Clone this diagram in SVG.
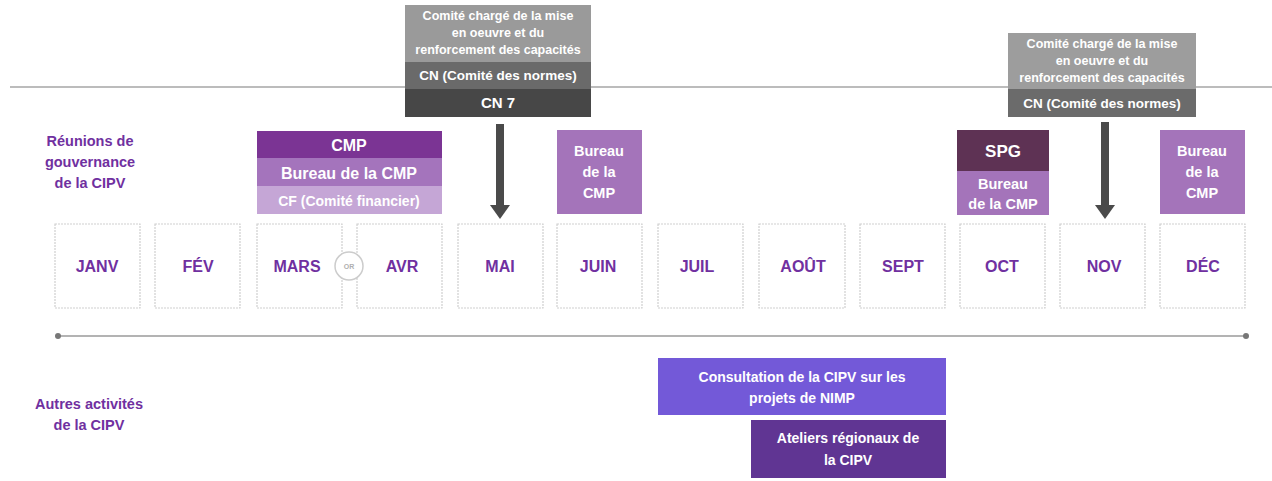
<svg xmlns="http://www.w3.org/2000/svg" width="1272" height="481" viewBox="0 0 1272 481">
<style>
text{font-family:"Liberation Sans",Arial,sans-serif;font-weight:bold;text-anchor:middle}
.w{fill:#fff}
.m{fill:#7030a0;font-size:16px}
.lbl{fill:#7030a0;font-size:14.5px}
.mb{fill:#fff;stroke:#cfcfcf;stroke-width:1.2;stroke-dasharray:2 1}
.s{font-size:12.5px}
</style>
<defs>
<marker id="ah" viewBox="0 0 14 20" refX="0" refY="10" markerWidth="14" markerHeight="20" markerUnits="userSpaceOnUse" orient="auto">
<path d="M0,0 L14,10 L0,20 Z" fill="#4a4a4a"/>
</marker>
</defs>
<line x1="10" y1="87" x2="1272" y2="87" stroke="#a6a6a6" stroke-width="1.5"/>
<g id="label-gouvernance">
<text class="lbl" x="90" y="146">Réunions de</text>
<text class="lbl" x="90" y="167">gouvernance</text>
<text class="lbl" x="90" y="188">de la CIPV</text>
</g>
<g id="label-autres">
<text class="lbl" x="89" y="409">Autres activités</text>
<text class="lbl" x="89" y="430">de la CIPV</text>
</g>
<g id="top-mai">
<rect x="405" y="5" width="186" height="57" fill="#9a9a9a"/>
<rect x="405" y="62" width="186" height="27" fill="#6a6a6a"/>
<rect x="405" y="89" width="186" height="28" fill="#474747"/>
<text class="w s" x="498" y="20">Comité chargé de la mise</text>
<text class="w s" x="498" y="37">en oeuvre et du</text>
<text class="w s" x="498" y="54">renforcement des capacités</text>
<text class="w" x="498" y="80" font-size="13.5">CN (Comité des normes)</text>
<text class="w" x="498" y="108" font-size="15">CN 7</text>
</g>
<g id="top-nov">
<rect x="1008" y="33" width="188" height="56" fill="#9d9d9d"/>
<rect x="1008" y="89" width="188" height="28" fill="#6b6b6b"/>
<text class="w s" x="1102" y="48">Comité chargé de la mise</text>
<text class="w s" x="1102" y="65">en oeuvre et du</text>
<text class="w s" x="1102" y="82">renforcement des capacités</text>
<text class="w" x="1102" y="108" font-size="13.5">CN (Comité des normes)</text>
</g>
<g id="cmp">
<rect x="257" y="131" width="185" height="27" fill="#7b3494"/>
<rect x="257" y="158" width="185" height="28" fill="#a474bc"/>
<rect x="257" y="186" width="185" height="28" fill="#c5a6d6"/>
<text class="w" x="349" y="151" font-size="16">CMP</text>
<text class="w" x="349" y="179" font-size="16">Bureau de la CMP</text>
<text class="w" x="349" y="206" font-size="14">CF (Comité financier)</text>
</g>
<g id="bureau-juin">
<rect x="557" y="130" width="85" height="84" fill="#a474ba"/>
<text class="w" x="599" y="156" font-size="14.5">Bureau</text>
<text class="w" x="599" y="177" font-size="14.5">de la</text>
<text class="w" x="599" y="198" font-size="14.5">CMP</text>
</g>
<g id="spg-oct">
<rect x="957" y="130" width="92" height="41" fill="#5e3254"/>
<rect x="957" y="171" width="92" height="44" fill="#a474ba"/>
<text class="w" x="1003" y="157" font-size="17">SPG</text>
<text class="w" x="1003" y="189" font-size="14.5">Bureau</text>
<text class="w" x="1003" y="209" font-size="14.5">de la CMP</text>
</g>
<g id="bureau-dec">
<rect x="1160" y="130" width="85" height="84" fill="#a474ba"/>
<text class="w" x="1202" y="156" font-size="14.5">Bureau</text>
<text class="w" x="1202" y="177" font-size="14.5">de la</text>
<text class="w" x="1202" y="198" font-size="14.5">CMP</text>
</g>
<g id="months">
<g id="m-janv"><rect class="mb" x="55" y="224" width="85" height="84"/><text class="m" x="97" y="272">JANV</text></g>
<g id="m-fev"><rect class="mb" x="155" y="224" width="85" height="84"/><text class="m" x="198" y="272">FÉV</text></g>
<g id="m-mars"><rect class="mb" x="257" y="224" width="85" height="84"/><text class="m" x="297" y="272">MARS</text></g>
<g id="m-avr"><rect class="mb" x="357" y="224" width="85" height="84"/><text class="m" x="402" y="272">AVR</text></g>
<g id="or"><circle cx="349" cy="266" r="14" fill="#fff" stroke="#cccccc" stroke-width="1.5"/><text x="349" y="269" font-size="7" fill="#b0b0b0" font-weight="normal">OR</text></g>
<g id="m-mai"><rect class="mb" x="458" y="224" width="85" height="84"/><text class="m" x="500" y="272">MAI</text></g>
<g id="m-juin"><rect class="mb" x="557" y="224" width="85" height="84"/><text class="m" x="598" y="272">JUIN</text></g>
<g id="m-juil"><rect class="mb" x="658" y="224" width="85" height="84"/><text class="m" x="697" y="272">JUIL</text></g>
<g id="m-aout"><rect class="mb" x="759" y="224" width="86" height="84"/><text class="m" x="803" y="272">AOÛT</text></g>
<g id="m-sept"><rect class="mb" x="860" y="224" width="85" height="84"/><text class="m" x="903" y="272">SEPT</text></g>
<g id="m-oct"><rect class="mb" x="960" y="224" width="85" height="84"/><text class="m" x="1002" y="272">OCT</text></g>
<g id="m-nov"><rect class="mb" x="1060" y="224" width="85" height="84"/><text class="m" x="1104" y="272">NOV</text></g>
<g id="m-dec"><rect class="mb" x="1160" y="224" width="85" height="84"/><text class="m" x="1203" y="272">DÉC</text></g>
</g>
<g id="timeline">
<line x1="58" y1="336" x2="1246" y2="336" stroke="#9a9a9a" stroke-width="1.5"/>
<circle cx="58" cy="336" r="3" fill="#777"/>
<circle cx="1246" cy="336" r="3" fill="#777"/>
</g>
<g id="consultation">
<rect x="658" y="358" width="288" height="57" fill="#7359d8"/>
<text class="w" x="802" y="382" font-size="14">Consultation de la CIPV sur les</text>
<text class="w" x="802" y="403" font-size="14">projets de NIMP</text>
</g>
<g id="ateliers">
<rect x="751" y="420" width="195" height="58" fill="#603593"/>
<text class="w" x="848" y="443" font-size="14">Ateliers régionaux de</text>
<text class="w" x="848" y="465" font-size="14">la CIPV</text>
</g>
<g id="connectors">
<line x1="500" y1="124" x2="500" y2="205" stroke="#4a4a4a" stroke-width="8" marker-end="url(#ah)"/>
<line x1="1105" y1="122" x2="1105" y2="205" stroke="#4a4a4a" stroke-width="8" marker-end="url(#ah)"/>
</g>
</svg>
